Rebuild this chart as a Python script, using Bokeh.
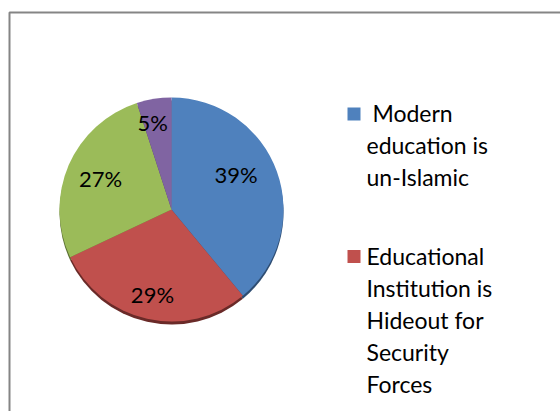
import numpy as np
from bokeh.plotting import figure
from bokeh.models import Range1d, ColumnDataSource
from bokeh.core.properties import value
from bokeh.embed import file_html
from bokeh.resources import INLINE

# ---- data ----
categories = ["Modern education is un-Islamic",
              "Educational Institution is Hideout for Security Forces",
              "Other reason",
              "Don't know"]
legend_labels = ["\u00a0Modern\neducation is\nun-Islamic",
                 "Educational\nInstitution is\nHideout for\nSecurity\nForces"]
percents = [39, 29, 27, 5]
colors = ["#4F81BD", "#C0504D", "#9BBB59", "#8064A2"]
shadow_colors = ["#2E4D72", "#6A2A28", "#5B7033", "#4B3B60"]

W, H = 560, 411
p = figure(width=W, height=H, output_backend="svg", toolbar_location=None,
           x_range=Range1d(0, W), y_range=Range1d(0, H),
           min_border=0, min_border_left=0, min_border_right=0,
           min_border_top=0, min_border_bottom=0)
p.axis.visible = False
p.grid.visible = False
p.outline_line_color = None
p.background_fill_color = "white"
p.border_fill_color = "white"

# chart-area border (left and top visible; rest clipped by the window)
p.line(x=[9, 9, W + 5], y=[-5, H - 12, H - 12], line_color="#858585", line_width=2)

cx, cy, R = 171, H - 209, 112
label_r = [0.66, 0.78, 0.69, 0.79]   # label distance from centre, fraction of radius
label_dx = [-5, 0, 0, -5]            # small screen nudges (px)
label_dy = [-10, 0, 0, 0]

vals = np.array(percents, dtype=float)
frac = vals / vals.sum()
cum = np.concatenate([[0], np.cumsum(frac)])
start = np.pi / 2 - cum[:-1] * 2 * np.pi
end = np.pi / 2 - cum[1:] * 2 * np.pi
mid = (start + end) / 2
lr = np.array(label_r) * R

src = ColumnDataSource(dict(start=start, end=end, color=colors, shadow=shadow_colors,
                            cat=categories,
                            lab=[f"{v}%" for v in percents],
                            lx=cx + lr * np.cos(mid),
                            ly=cy + lr * np.sin(mid),
                            dx=label_dx, dy=label_dy))

# 3D-ish shadow
p.wedge(x=cx, y=cy - 3, radius=R, start_angle="start", end_angle="end",
        direction="clock", fill_color="shadow", line_color=None, source=src)
p.wedge(x=cx, y=cy, radius=R, start_angle="start", end_angle="end",
        direction="clock", fill_color="color", line_color=None, source=src)

p.text(x="lx", y="ly", text="lab", source=src, x_offset="dx", y_offset="dy",
       text_align="center", text_baseline="middle", text_font=value("Lato"),
       text_font_size="22px", text_color="black")

# legend (multi-line entries, square aligned with the first line)
n = len(legend_labels)
idx = np.arange(n)
leg = ColumnDataSource(dict(
    sx=np.full(n, 353.5), sy=H - (113.5 + idx * 142.5),
    tx=np.full(n, 366.0), ty=H - (98 + idx * 143),
    label=legend_labels, color=colors[:n]))
p.rect(x="sx", y="sy", width=13, height=13, width_units="screen",
       height_units="screen", fill_color="color", line_color=None, source=leg)
p.text(x="tx", y="ty", text="label", source=leg, text_align="left",
       text_baseline="top", text_font=value("Lato"), text_font_size="23px",
       text_line_height=1.15, text_color="black")

open("out.html", "w").write(file_html(p, INLINE))
